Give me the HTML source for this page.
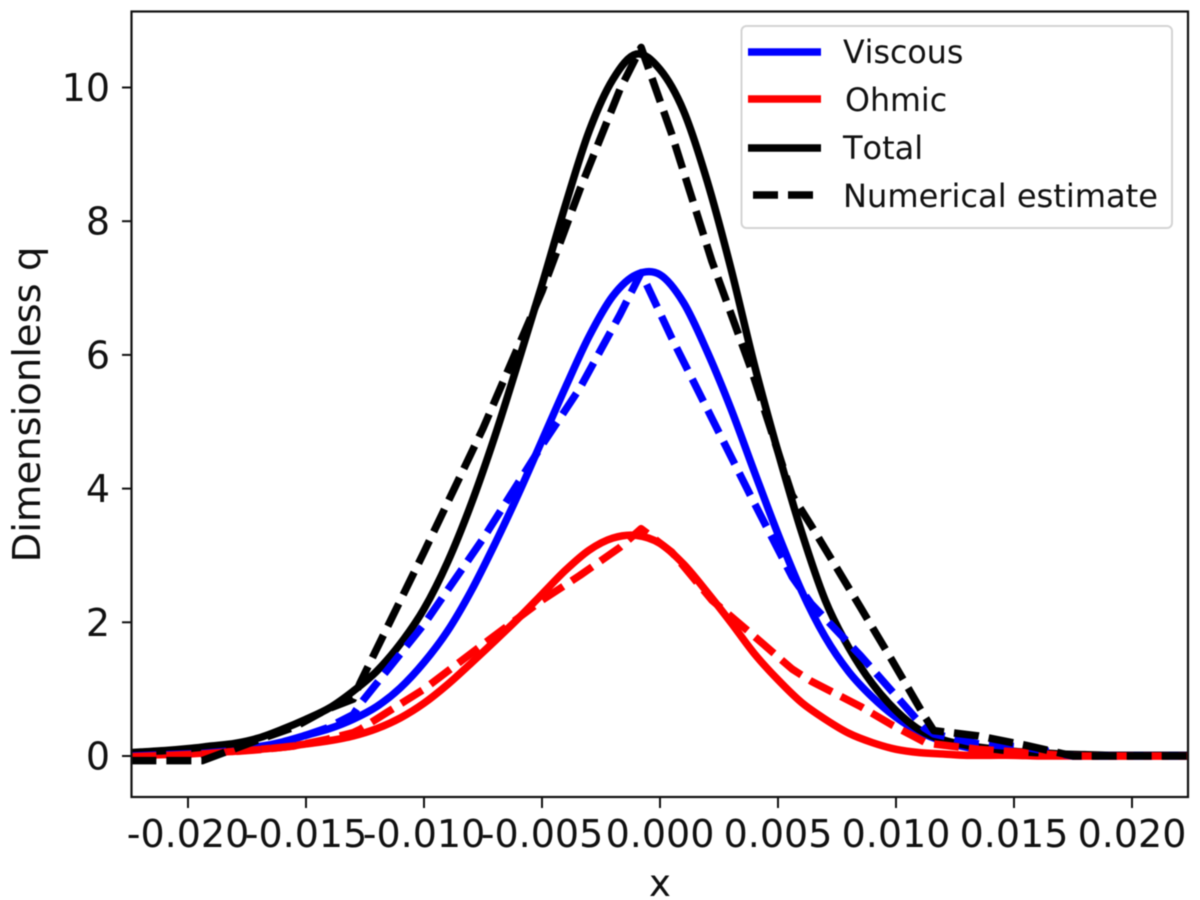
<!DOCTYPE html>
<html>
<head>
<meta charset="utf-8">
<title>Dimensionless q chart</title>
<style>
html,body{margin:0;padding:0;background:#fff;width:1200px;height:900px;overflow:hidden}
svg{display:block;filter:blur(0.6px)}
text{font-family:"DejaVu Sans","Liberation Sans",sans-serif;fill:#111;font-kerning:none}
</style>
</head>
<body>
<svg id="chart" width="1200" height="900" viewBox="0 0 1200 900" xmlns="http://www.w3.org/2000/svg">
  <defs><clipPath id="plot-clip"><rect x="131" y="12" width="1057" height="785"/></clipPath></defs>
  <g id="marks" clip-path="url(#plot-clip)"></g>
  <rect x="131.5" y="11.5" width="1056.5" height="785.5" fill="none" stroke="#111" stroke-width="2.2"/>
  <g id="ticks"></g>
  <text x="660" y="896" font-size="37" text-anchor="middle">x</text>
  <text transform="translate(40,404.5) rotate(-90)" font-size="38.5" text-anchor="middle">Dimensionless q</text>
  <g>
    <rect x="741.5" y="26" width="430.5" height="202" rx="5" fill="#fff" fill-opacity="0.85" stroke="#d4d4d4" stroke-width="2"/>
    <line x1="748" x2="821" y1="52" y2="52" stroke="#0000ff" stroke-width="7.5"/>
    <text x="843" y="63" font-size="31.7">Viscous</text>
    <line x1="748" x2="821" y1="99" y2="99" stroke="#ff0000" stroke-width="7.5"/>
    <text x="845" y="111" font-size="31.7">Ohmic</text>
    <line x1="748" x2="821" y1="148" y2="148" stroke="#000" stroke-width="7.5"/>
    <text x="843" y="159" font-size="32">Total</text>
    <line x1="753" x2="815" y1="195" y2="195" stroke="#000" stroke-width="7.5" stroke-dasharray="25 10"/>
    <text x="843" y="207" font-size="32.1">Numerical estimate</text>
  </g>
</svg>
<script>
var xTickValues = [-0.02,-0.015,-0.01,-0.005,0,0.005,0.01,0.015,0.02];
var xTickLabels = ["-0.020","-0.015","-0.010","-0.005","0.000","0.005","0.010","0.015","0.020"];
var yTickValues = [0,2,4,6,8,10];
var yTickLabels = ["0","2","4","6","8","10"];

var solidX = [-0.0224,-0.022,-0.021,-0.02,-0.019,-0.018,-0.017,-0.016,-0.015,-0.014,-0.013,-0.012,-0.011,-0.01,-0.009,-0.008,-0.007,-0.006,-0.005,-0.004,-0.003,-0.002,-0.001,0,0.001,0.002,0.003,0.004,0.005,0.006,0.007,0.008,0.009,0.01,0.011,0.012,0.013,0.014,0.015,0.016,0.017,0.018,0.019,0.02,0.021,0.022,0.0224];
var viscousSolid = [0.02,0.02,0.03,0.05,0.07,0.1,0.14,0.21,0.31,0.41,0.55,0.74,1.02,1.4,1.87,2.47,3.17,3.92,4.72,5.52,6.28,6.88,7.2,7.2,6.78,6.05,5.2,4.25,3.32,2.47,1.78,1.26,0.88,0.58,0.36,0.22,0.13,0.08,0.05,0.03,0.02,0.01,0.01,0.01,0.01,0.01,0.01];
var ohmicSolid = [0.01,0.01,0.02,0.03,0.05,0.07,0.1,0.13,0.18,0.23,0.3,0.41,0.57,0.79,1.07,1.39,1.72,2.06,2.42,2.78,3.08,3.26,3.3,3.18,2.87,2.45,2.0,1.53,1.14,0.8,0.55,0.34,0.2,0.1,0.05,0.03,0.01,0.01,0.01,0,0,0,0,0,0,0,0];
var totalSolid = [0.05,0.06,0.08,0.11,0.15,0.19,0.27,0.4,0.55,0.72,0.97,1.27,1.68,2.2,2.9,3.77,4.78,5.9,7.05,8.25,9.35,10.12,10.5,10.27,9.65,8.6,7.3,5.85,4.55,3.35,2.33,1.62,1.08,0.68,0.39,0.24,0.16,0.11,0.07,0.05,0.03,0.02,0.01,0.01,0.01,0.01,0.01];

var numericalX = [-0.0224,-0.0194,-0.0168,-0.0155,-0.0141,-0.013,-0.0127,-0.01,-0.0075,-0.005,-0.0034,-0.0017,-0.0008,0.0005,0.0022,0.0039,0.0056,0.0064,0.0085,0.0098,0.0112,0.0116,0.0135,0.0155,0.0175,0.0224];
var viscousDashed = [0,0.04,0.12,0.25,0.42,0.62,0.78,1.97,3.25,4.65,5.5,6.6,7.23,6.25,5.05,3.85,2.68,2.28,1.5,0.98,0.42,0.33,0.18,0.13,0,0];
var ohmicDashed = [-0.01,0.03,0.1,0.15,0.25,0.35,0.4,1.0,1.67,2.33,2.7,3.12,3.4,3.05,2.33,1.82,1.3,1.12,0.74,0.47,0.21,0.18,0.1,0.05,0,0];
var totalDashed = [-0.07,-0.07,0.27,0.43,0.7,0.85,1.1,3.05,4.9,6.95,8.47,9.97,10.6,9.3,7.4,5.75,3.9,3.45,2.22,1.45,0.6,0.38,0.3,0.16,0,0];

function sx(v){ return 660 + v * 23600; }
function sy(v){ return 756 - v * 66.85; }

var NS = 'http://www.w3.org/2000/svg';
var marks = document.getElementById('marks');
var ticks = document.getElementById('ticks');

function smoothPath(xs, ys){
  var p = xs.map(function(x,i){ return [sx(x), sy(ys[i])]; });
  var d = 'M' + p[0][0].toFixed(2) + ' ' + p[0][1].toFixed(2);
  for (var i = 0; i < p.length - 1; i++){
    var a = p[Math.max(i-1,0)], b = p[i], c = p[i+1], e = p[Math.min(i+2,p.length-1)];
    d += ' C' + (b[0]+(c[0]-a[0])/6).toFixed(2) + ' ' + (b[1]+(c[1]-a[1])/6).toFixed(2) + ' ' +
         (c[0]-(e[0]-b[0])/6).toFixed(2) + ' ' + (c[1]-(e[1]-b[1])/6).toFixed(2) + ' ' +
         c[0].toFixed(2) + ' ' + c[1].toFixed(2);
  }
  return d;
}
function straightPath(xs, ys){
  return xs.map(function(x,i){ return (i?'L':'M') + sx(x).toFixed(2) + ' ' + sy(ys[i]).toFixed(2); }).join(' ');
}
function addSeries(d, color, dashed, name){
  var el = document.createElementNS(NS, 'path');
  el.setAttribute('d', d);
  el.setAttribute('fill', 'none');
  el.setAttribute('stroke', color);
  el.setAttribute('stroke-width', 7.5);
  el.setAttribute('stroke-linejoin', 'round');
  if (dashed) el.setAttribute('stroke-dasharray', '25 10');
  
  
  marks.appendChild(el);
}
addSeries(smoothPath(solidX, viscousSolid), '#0000ff', false, 'viscous-line');
addSeries(smoothPath(solidX, ohmicSolid), '#ff0000', false, 'ohmic-line');
addSeries(smoothPath(solidX, totalSolid), '#000000', false, 'total-line');
addSeries(straightPath(numericalX, viscousDashed), '#0000ff', true, 'viscous-numerical-line');
addSeries(straightPath(numericalX, ohmicDashed), '#ff0000', true, 'ohmic-numerical-line');
addSeries(straightPath(numericalX, totalDashed), '#000000', true, 'total-numerical-line');

xTickValues.forEach(function(v,i){
  var l = document.createElementNS(NS, 'line');
  l.setAttribute('x1', sx(v)); l.setAttribute('x2', sx(v));
  l.setAttribute('y1', 797); l.setAttribute('y2', 808);
  l.setAttribute('stroke', '#111'); l.setAttribute('stroke-width', 2);
  
  
  ticks.appendChild(l);
  var t = document.createElementNS(NS, 'text');
  t.setAttribute('x', sx(v)); t.setAttribute('y', 847);
  t.setAttribute('font-size', 38); t.setAttribute('text-anchor', 'middle');
  t.textContent = xTickLabels[i];
  
  
  ticks.appendChild(t);
});
yTickValues.forEach(function(v,i){
  var l = document.createElementNS(NS, 'line');
  l.setAttribute('x1', 122); l.setAttribute('x2', 131);
  l.setAttribute('y1', sy(v)); l.setAttribute('y2', sy(v));
  l.setAttribute('stroke', '#111'); l.setAttribute('stroke-width', 2);
  
  
  ticks.appendChild(l);
  var t = document.createElementNS(NS, 'text');
  t.setAttribute('x', 110); t.setAttribute('y', sy(v) + 13.5);
  t.setAttribute('font-size', 38); t.setAttribute('text-anchor', 'end');
  t.textContent = yTickLabels[i];
  
  
  ticks.appendChild(t);
});
</script>
</body>
</html>
